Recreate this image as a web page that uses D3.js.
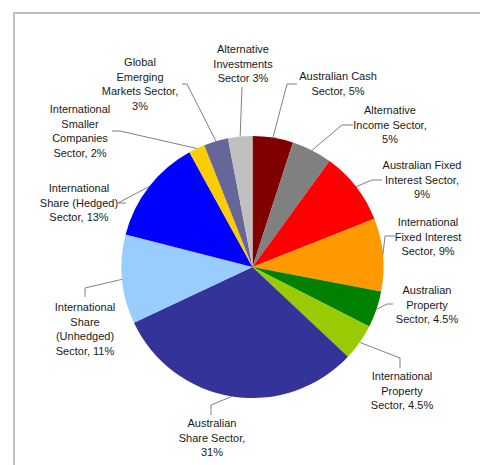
<!DOCTYPE html>
<html>
<head>
<meta charset="utf-8">
<script src="https://cdn.jsdelivr.net/npm/d3@7"></script>
<style>
  html, body { margin: 0; padding: 0; background: #fff; }
  svg { display: block; }
  text { font-family: "Liberation Sans", Arial, sans-serif; font-size: 11px; fill: #1a1a1a; }
</style>
</head>
<body>
<svg id="chart" width="480" height="465"></svg>
<script>
// Asset allocation by sector, clockwise from 12 o'clock
const sectors = [
  "Australian Cash\nSector, 5%",
  "Alternative\nIncome Sector,\n5%",
  "Australian Fixed\nInterest Sector,\n9%",
  "International\nFixed Interest\nSector, 9%",
  "Australian\nProperty\nSector, 4.5%",
  "International\nProperty\nSector, 4.5%",
  "Australian\nShare Sector,\n31%",
  "International\nShare\n(Unhedged)\nSector, 11%",
  "International\nShare (Hedged)\nSector, 13%",
  "International\nSmaller\nCompanies\nSector, 2%",
  "Global\nEmerging\nMarkets Sector,\n3%",
  "Alternative\nInvestments\nSector 3%"
];
const weights = [5, 5, 9, 9, 4.5, 4.5, 31, 11, 13, 2, 3, 3];
const colors = [
  "#800000", "#808080", "#ff0000", "#ff9900", "#008000", "#99cc00",
  "#333399", "#99ccff", "#0000ff", "#ffcc00", "#666699", "#c0c0c0"
];

// Label placement: text centre (x, first line y) and leader elbow/end points
const labelLayout = [
  { x: 338, y: 76,  elbow: [287, 84],  end: [297, 84] },
  { x: 390, y: 110, elbow: [342, 125], end: [353, 125] },
  { x: 422, y: 165, elbow: [372, 180], end: [382, 180] },
  { x: 428, y: 222, elbow: [385, 236], end: [395, 236] },
  { x: 427, y: 290, elbow: [387, 304], end: [393, 304] },
  { x: 402, y: 376, elbow: [400, 358], end: [400, 368] },
  { x: 212, y: 423, elbow: [211, 405], end: [211, 415] },
  { x: 85,  y: 307, elbow: [85, 288],  end: [85, 297] },
  { x: 79,  y: 188, elbow: [118, 203], end: [126, 203] },
  { x: 80,  y: 109, elbow: [120, 131], end: [112, 131] },
  { x: 140, y: 62,  elbow: [187, 84],  end: [182, 84] },
  { x: 243, y: 49,  elbow: [242, 87],  end: [242, 87] }
];

const svg = d3.select("#chart");
const cx = 252.5, cy = 267, R = 131, lineH = 14.5;

// Chart area frame
svg.append("rect")
  .attr("x", 14).attr("y", 13)
  .attr("width", 480).attr("height", 470)
  .attr("fill", "none")
  .attr("stroke", "#bfbfbf")
  .attr("stroke-width", 2);

const data = weights.map((v, i) => ({ label: sectors[i], value: v, color: colors[i], layout: labelLayout[i] }));

const pie = d3.pie().value(d => d.value).sort(null);
const arcs = pie(data);
const arc = d3.arc().innerRadius(0).outerRadius(R);

const g = svg.append("g").attr("transform", `translate(${cx},${cy})`);

g.selectAll("path.slice")
  .data(arcs)
  .join("path")
  .attr("class", "slice")
  .attr("d", arc)
  .attr("fill", d => d.data.color);

// Leader lines from slice edge to labels
const edge = d3.arc().innerRadius(R).outerRadius(R);
svg.selectAll("polyline.leader")
  .data(arcs)
  .join("polyline")
  .attr("class", "leader")
  .attr("fill", "none")
  .attr("stroke", "#808080")
  .attr("stroke-width", 1)
  .attr("points", d => {
    const [ex, ey] = edge.centroid(d);
    const L = d.data.layout;
    return [[cx + ex, cy + ey], L.elbow, L.end].map(p => p.join(",")).join(" ");
  });

// Category labels
const labels = svg.selectAll("text.label")
  .data(arcs)
  .join("text")
  .attr("class", "label")
  .attr("text-anchor", "middle");

labels.each(function(d) {
  const L = d.data.layout;
  d3.select(this).selectAll("tspan")
    .data(d.data.label.split("\n"))
    .join("tspan")
    .attr("x", L.x)
    .attr("y", (t, i) => L.y + 4 + i * lineH)
    .text(t => t);
});
</script>
</body>
</html>
